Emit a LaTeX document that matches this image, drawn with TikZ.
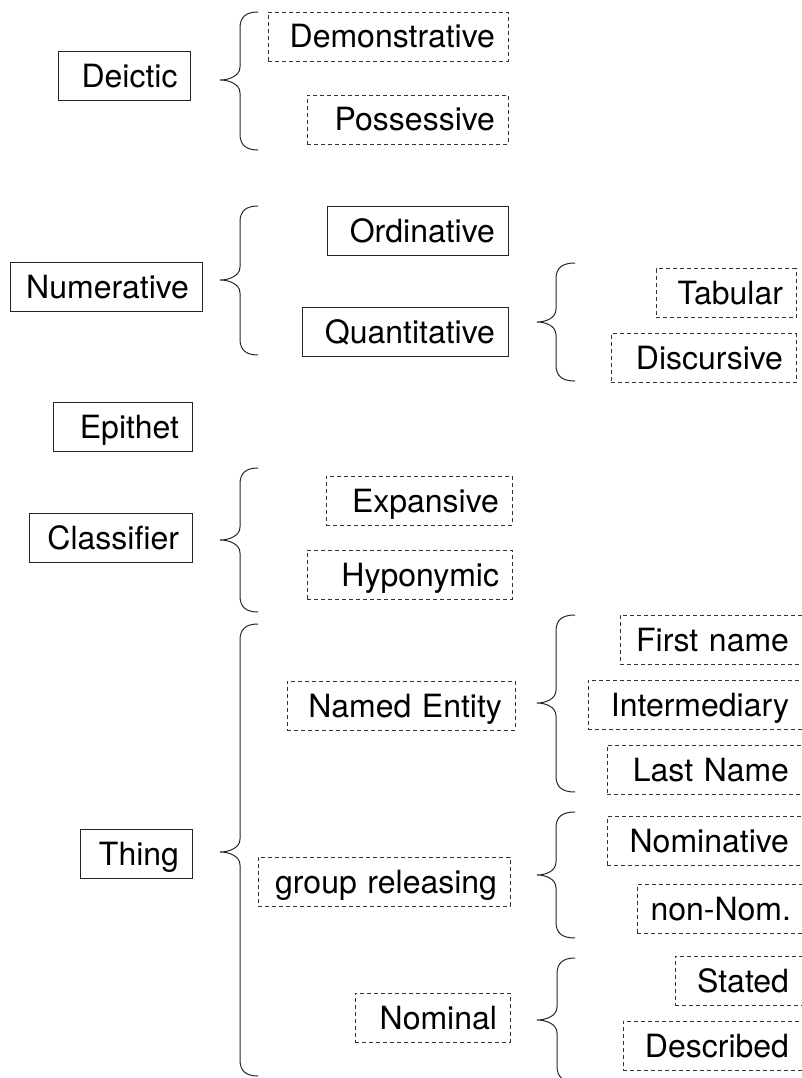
\documentclass[tikz,border=0pt]{standalone}
\usepackage{fontspec}
\setmainfont{TeX Gyre Heros}
\newcommand\labelfont{\fontsize{32}{37}\selectfont}
% curly brace: tip x, spine x, end x, top y, tip y, bottom y
\newcommand\curlybrace[6]{%
  \draw[curly] (#3,#4) .. controls (#2+6,#4) and (#2,#4+5) .. (#2,#4+16)
    -- (#2,#5-13) .. controls (#2,#5-4) and (#1+9,#5) .. (#1,#5)
    .. controls (#1+9,#5) and (#2,#5+4) .. (#2,#5+13)
    -- (#2,#6-16) .. controls (#2,#6-5) and (#2+6,#6) .. (#3,#6);}
\tikzset{
  lbl/.style={inner xsep=13pt, inner ysep=0pt, minimum height=49pt,
    text height=23pt, text depth=0pt, align=right, font=\labelfont},
  solidbox/.style={lbl, draw=black!85, line width=0.9pt},
  dashbox/.style={lbl, draw=black!80, line width=0.9pt, dash pattern=on 4pt off 3pt},
  curly/.style={draw=black!85, line width=1pt}
}
\begin{document}
\begin{tikzpicture}[x=1pt,y=-1pt]
\useasboundingbox (0,0) rectangle (801,1078);

% left column
\node[solidbox, text width=106pt] (deictic)    at (124.5,76)  {Deictic};
\node[solidbox, text width=166pt] (numerative) at (106,287)   {Numerative};
\node[solidbox, text width=113pt] (epithet)    at (122.5,426.5) {Epithet};
\node[solidbox, text width=137pt] (classifier) at (110.5,538) {Classifier};
\node[solidbox, text width=86pt]  (thing)      at (136,853.5) {Thing};

% middle column
\node[dashbox,  text width=214pt] (demonstr) at (388,36.5)   {Demonstrative};
\node[dashbox,  text width=175pt] (possess)  at (407.5,119.5) {Possessive};
\node[solidbox, text width=155pt] (ordin)    at (417.5,231)  {Ordinative};
\node[solidbox, text width=180pt] (quant)    at (405,331.5)  {Quantitative};
\node[dashbox,  text width=160pt] (expans)   at (419,500.5)  {Expansive};
\node[dashbox,  text width=179pt] (hypon)    at (409.5,574.5) {Hyponymic};
\node[dashbox,  text width=202pt] (named)    at (401,705.5)  {\mbox{Named Entity}};
\node[dashbox,  text width=226pt] (group)    at (384,881.5)  {\mbox{group releasing}};
\node[dashbox,  text width=129pt] (nominal)  at (432.5,1017.5) {Nominal};

% right column
\node[dashbox, text width=114pt] (tabular)  at (726,293)     {Tabular};
\node[dashbox, text width=159pt] (discurs)  at (703.5,358)   {Discursive};
\node[dashbox, text width=156pt] (first)    at (711,639.5)   {\mbox{First name}};
\node[dashbox, text width=188pt] (interm)   at (695,704.5)   {Intermediary};
\node[dashbox, text width=169pt] (last)     at (704.5,769.5) {\mbox{Last Name}};
\node[dashbox, text width=169pt] (nomin)    at (704.5,841)   {Nominative};
\node[dashbox, text width=141pt] (nonnom)   at (720.5,909)   {\mbox{non-Nom.}};
\node[dashbox, text width=101pt] (stated)   at (738.5,980.5) {Stated};
\node[dashbox, text width=153pt] (descr)    at (712.5,1045.5) {Described};

% braces
\curlybrace{220}{240}{258}{12}{80}{150}
\curlybrace{220}{240}{258}{206}{280}{355}
\curlybrace{220}{240}{258}{468}{540}{612}
\curlybrace{220}{240}{258}{624}{852}{1076}
\curlybrace{537}{556}{575}{263}{322}{381}
\curlybrace{537}{556}{575}{615}{703}{792}
\curlybrace{537}{556}{575}{812}{875}{938}
\curlybrace{537}{557}{575}{958}{1020}{1082}
\end{tikzpicture}
\end{document}
